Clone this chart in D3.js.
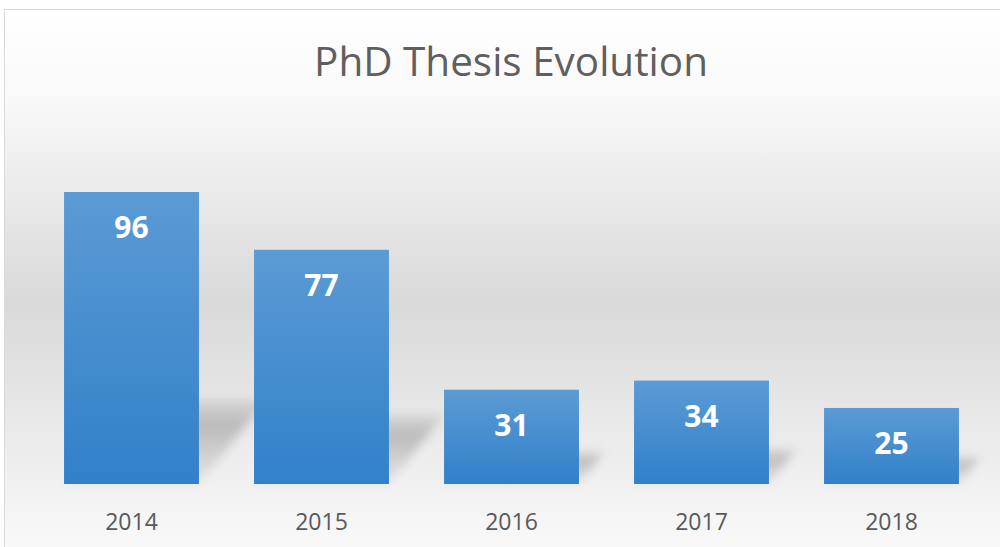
<!DOCTYPE html>
<html>
<head>
<meta charset="utf-8">
<title>PhD Thesis Evolution</title>
<script src="https://d3js.org/d3.v7.min.js"></script>
<style>
  body { margin: 0; background: #fff; }
  svg { display: block; }
</style>
</head>
<body>
<script>
  // chart data
  var years = ["2014", "2015", "2016", "2017", "2018"];
  var theses = [96, 77, 31, 34, 25];
  var chartTitle = "PhD Thesis Evolution";

  var W = 1000, H = 547;
  var base = 484, top0 = 192;

  var svg = d3.select("body").append("svg")
    .attr("width", W).attr("height", H);

  var defs = svg.append("defs");

  // background gradient: white -> grey -> white
  var bg = defs.append("linearGradient").attr("id", "bg")
    .attr("x1", 0).attr("y1", 0).attr("x2", 0).attr("y2", 1);
  bg.append("stop").attr("offset", "0%").attr("stop-color", "#ffffff");
  bg.append("stop").attr("offset", "15%").attr("stop-color", "#f9f9f9");
  bg.append("stop").attr("offset", "50%").attr("stop-color", "#d9d9d9");
  bg.append("stop").attr("offset", "85%").attr("stop-color", "#f4f4f4");
  bg.append("stop").attr("offset", "100%").attr("stop-color", "#ffffff");

  var barGrad = defs.append("linearGradient").attr("id", "bar")
    .attr("x1", 0).attr("y1", 0).attr("x2", 0).attr("y2", 1);
  barGrad.append("stop").attr("offset", "0%").attr("stop-color", "#5b9bd5");
  barGrad.append("stop").attr("offset", "100%").attr("stop-color", "#3180c9");

  var shGrad = defs.append("linearGradient").attr("id", "sh")
    .attr("x1", 0).attr("y1", 1).attr("x2", 0).attr("y2", 0);
  shGrad.append("stop").attr("offset", "0%").attr("stop-color", "#000").attr("stop-opacity", 0.04);
  shGrad.append("stop").attr("offset", "70%").attr("stop-color", "#000").attr("stop-opacity", 0.2);
  shGrad.append("stop").attr("offset", "100%").attr("stop-color", "#000").attr("stop-opacity", 0.08);

  defs.append("filter").attr("id", "blur")
    .attr("x", "-30%").attr("y", "-30%").attr("width", "160%").attr("height", "160%")
    .append("feGaussianBlur").attr("stdDeviation", 5);

  svg.append("rect")
    .attr("x", 4.5).attr("y", 9.5)
    .attr("width", W + 20).attr("height", H + 40)
    .attr("fill", "url(#bg)")
    .attr("stroke", "#d9d9d9");

  var x = d3.scaleBand().domain(years).range([36.5, 986.5])
    .paddingInner(0.29).paddingOuter(0.145);
  var y = d3.scaleLinear().domain([0, 96]).range([base, top0]);

  var rows = years.map(function(yr, i) { return { year: yr, v: theses[i] }; });

  // perspective shadows behind bars
  svg.append("g").selectAll("path")
    .data(rows).enter().append("path")
    .attr("d", function(d) {
      var x0 = x(d.year), x1 = x0 + x.bandwidth();
      var h = (base - y(d.v)) * 0.26 + 8;
      var dx = h * 0.8;
      return "M" + x0 + "," + base + "L" + x1 + "," + base +
        "L" + (x1 + dx) + "," + (base - h) + "L" + (x0 + dx) + "," + (base - h) + "Z";
    })
    .attr("fill", "url(#sh)")
    .attr("filter", "url(#blur)");

  svg.append("g").selectAll("rect")
    .data(rows).enter().append("rect")
    .attr("x", function(d) { return x(d.year); })
    .attr("y", function(d) { return y(d.v); })
    .attr("width", x.bandwidth())
    .attr("height", function(d) { return base - y(d.v); })
    .attr("fill", "url(#bar)");

  svg.append("g").selectAll("text")
    .data(rows).enter().append("text")
    .attr("x", function(d) { return x(d.year) + x.bandwidth() / 2; })
    .attr("y", function(d) { return y(d.v) + 46; })
    .attr("text-anchor", "middle")
    .attr("font-family", "'Open Sans', sans-serif")
    .attr("font-weight", "bold")
    .attr("font-size", 30)
    .attr("fill", "#ffffff")
    .text(function(d) { return d.v; });

  // category axis labels
  var ax = svg.append("g").attr("transform", "translate(0," + base + ")")
    .call(d3.axisBottom(x).tickSize(0).tickPadding(0));
  ax.select(".domain").remove();
  ax.selectAll("text")
    .attr("dy", 0).attr("y", 46)
    .attr("font-family", "'Open Sans', sans-serif")
    .attr("font-size", 23)
    .attr("fill", "#595959");

  var t = svg.append("text")
    .attr("x", 511).attr("y", 76)
    .attr("text-anchor", "middle")
    .attr("font-family", "'Open Sans', sans-serif")
    .attr("font-size", 40)
    .attr("fill", "#5f5f5f")
    .text(chartTitle);
  var tw = t.node().getComputedTextLength();
  t.attr("font-size", 40 * 394 / tw);
</script>
</body>
</html>
